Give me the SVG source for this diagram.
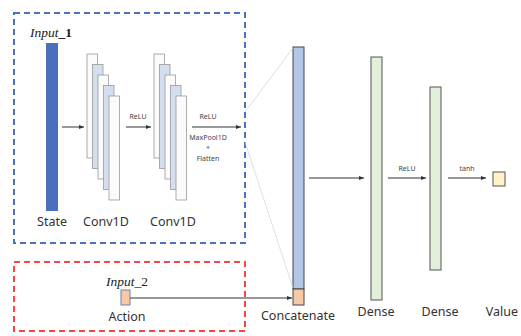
<svg xmlns="http://www.w3.org/2000/svg" width="521" height="336" viewBox="0 0 521 336">
  <style>
    .lbl { font-family: "Noto Sans", "Open Sans", sans-serif; font-size: 12.5px; fill: #333; text-anchor: middle; }
    .sm { font-family: "Noto Sans", "Open Sans", sans-serif; font-size: 7px; fill: #444; text-anchor: middle; }
    .inp { font-family: "Liberation Serif", serif; font-size: 13.5px; font-style: italic; fill: #222; text-anchor: middle; }
    .bar { stroke: #444; stroke-width: 1; }
    .fm { stroke: #9a9a9a; stroke-width: 0.8; }
    .fw { fill: #fbfbfb; }
    .fb { fill: #d3deef; }
    .dense { fill: #e2efda; stroke: #555; stroke-width: 1; }
    .edge { stroke: #333; stroke-width: 1; fill: none; marker-end: url(#ah); }
    .guide { stroke: #c9d2e0; stroke-width: 0.7; fill: none; }
  </style>
  <defs>
    <marker id="ah" viewBox="0 0 10 10" refX="10" refY="5" markerWidth="5" markerHeight="5" orient="auto">
      <path d="M0,1 L10,5 L0,9 z" fill="#333"/>
    </marker>
  </defs>
  <rect width="521" height="336" fill="#fff"/>

  <!-- input branches -->
  <rect id="box-input1" x="14" y="13" width="231" height="230" fill="none" stroke="#4a72bf" stroke-width="2" stroke-dasharray="6 4"/>
  <rect id="box-input2" x="14" y="262" width="231" height="69" fill="none" stroke="#f04848" stroke-width="2" stroke-dasharray="6 4"/>

  <g id="state">
    <text class="inp" x="51" y="37">Input<tspan font-weight="bold" font-style="normal">_1</tspan></text>
    <rect x="46" y="43" width="12" height="168" fill="#4a6fbd"/>
    <text class="lbl" x="52" y="226">State</text>
  </g>

  <g id="conv1">
    <rect class="fm fw" x="87" y="54" width="10.5" height="104"/>
    <rect class="fm fb" x="92.5" y="64.5" width="10.5" height="104"/>
    <rect class="fm fw" x="98" y="75" width="10.5" height="104"/>
    <rect class="fm fb" x="103.5" y="85.5" width="10.5" height="104"/>
    <rect class="fm fw" x="109" y="96" width="10.5" height="104"/>
    <text class="lbl" x="106" y="226">Conv1D</text>
  </g>

  <g id="conv2">
    <rect class="fm fw" x="154" y="54" width="10.5" height="104"/>
    <rect class="fm fb" x="159.5" y="64.5" width="10.5" height="104"/>
    <rect class="fm fw" x="165" y="75" width="10.5" height="104"/>
    <rect class="fm fb" x="170.5" y="85.5" width="10.5" height="104"/>
    <rect class="fm fw" x="176" y="96" width="10.5" height="104"/>
    <text class="lbl" x="173" y="226">Conv1D</text>
  </g>

  <g id="action">
    <text class="inp" x="127" y="286">Input<tspan font-style="normal">_2</tspan></text>
    <rect x="121" y="290" width="9" height="15" fill="#f6c8a6" stroke="#6b82b5" stroke-width="1"/>
    <text class="lbl" x="127" y="321">Action</text>
  </g>

  <g id="concatenate">
    <rect x="293" y="47" width="11" height="242" fill="#b4c6e6" class="bar"/>
    <rect x="293" y="289" width="11" height="16" fill="#f6c8a6" class="bar"/>
    <text class="lbl" x="298" y="320">Concatenate</text>
  </g>

  <g id="dense1">
    <rect class="dense" x="371" y="57" width="11" height="243"/>
    <text class="lbl" x="376" y="316">Dense</text>
  </g>

  <g id="dense2">
    <rect class="dense" x="430" y="87" width="11" height="183"/>
    <text class="lbl" x="440" y="316">Dense</text>
  </g>

  <g id="value">
    <rect x="493" y="172" width="12" height="14" fill="#fff1c8" stroke="#555" stroke-width="1"/>
    <text class="lbl" x="502" y="316">Value</text>
  </g>

  <g id="connectors">
    <line class="guide" x1="245" y1="112" x2="293" y2="48"/>
    <line class="guide" x1="245" y1="142" x2="293" y2="288"/>
    <line class="edge" x1="62" y1="127" x2="84" y2="127"/>
    <line class="edge" x1="126" y1="127" x2="151" y2="127"/>
    <text class="sm" x="138" y="119">ReLU</text>
    <line class="edge" x1="192" y1="127" x2="241" y2="127"/>
    <text class="sm" x="208" y="119">ReLU</text>
    <text class="sm" x="208" y="140">MaxPool1D</text>
    <text class="sm" x="208" y="150">+</text>
    <text class="sm" x="208" y="161">Flatten</text>
    <line class="edge" x1="130" y1="298" x2="292" y2="298"/>
    <line class="edge" x1="309" y1="178" x2="364" y2="178"/>
    <line class="edge" x1="388" y1="178" x2="426" y2="178"/>
    <text class="sm" x="407" y="171">ReLU</text>
    <line class="edge" x1="448" y1="178" x2="486" y2="178"/>
    <text class="sm" x="467" y="171">tanh</text>
  </g>
</svg>
